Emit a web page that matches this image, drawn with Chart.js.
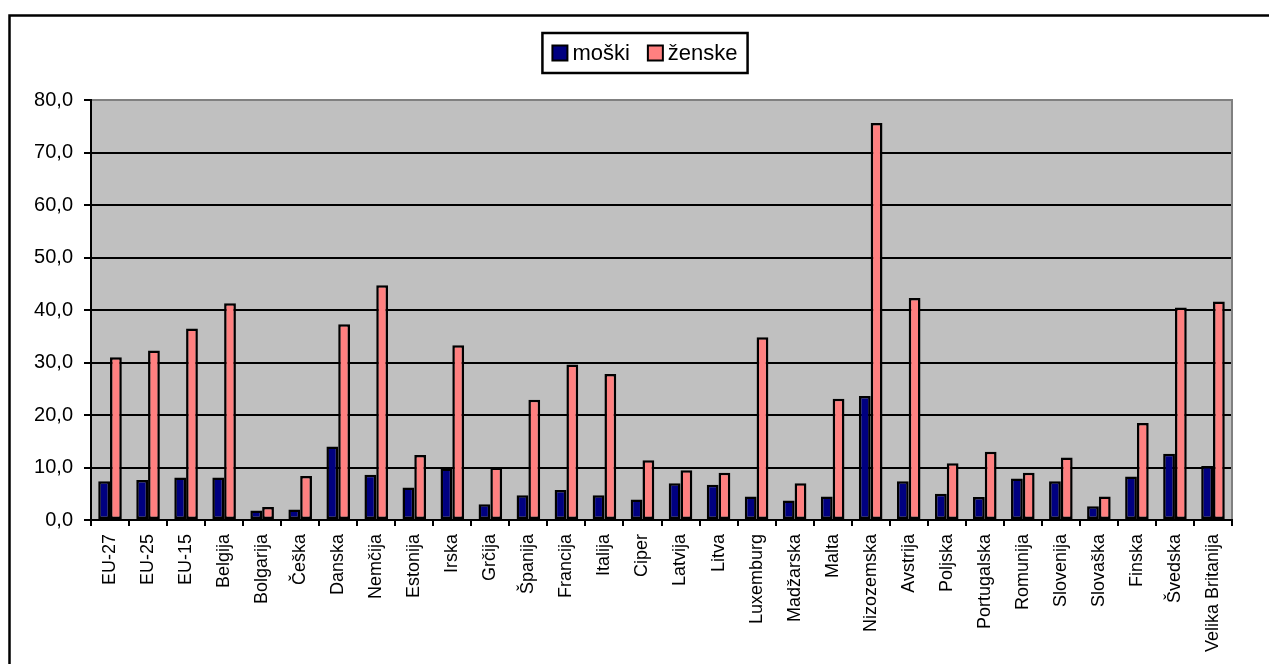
<!DOCTYPE html>
<html>
<head>
<meta charset="utf-8">
<script src="https://cdn.jsdelivr.net/npm/chart.js@4"></script>
<style>
body{margin:0;background:#fff;}
canvas{display:block;}
</style>
</head>
<body>
<canvas id="chart" width="1269" height="664"></canvas>
<script>
const countries=["EU-27","EU-25","EU-15","Belgija","Bolgarija","Češka","Danska","Nemčija","Estonija","Irska","Grčija","Španija","Francija","Italija","Ciper","Latvija","Litva","Luxemburg","Madžarska","Malta","Nizozemska","Avstrija","Poljska","Portugalska","Romunija","Slovenija","Slovaška","Finska","Švedska","Velika Britanija"]

const men=[7.4,7.6,8.1,8.1,1.8,2.0,14.0,8.6,6.2,9.8,3.0,4.7,5.7,4.7,3.9,7.0,6.7,4.5,3.7,4.5,23.6,7.4,5.0,4.4,7.9,7.4,2.6,8.3,12.6,10.3]
const women=[31.0,32.3,36.5,41.3,2.5,8.4,37.3,44.7,12.4,33.3,10.0,22.9,29.6,27.8,11.4,9.5,9.0,34.8,7.0,23.1,75.6,42.3,10.8,13.0,9.0,11.9,4.5,18.5,40.5,41.6]

const seriesNames=["moški","ženske"]
const yTicks=[0,10,20,30,40,50,60,70,80]

const FONT='"Liberation Sans", Arial, sans-serif'

// plot background, grey border, outer frame and boxed legend
const framePlugin={
id:"frame",
beforeDraw(chart){
const {ctx,chartArea:a}=chart
ctx.save()
ctx.fillStyle="#ffffff"
ctx.fillRect(0,0,chart.width,chart.height)
ctx.fillStyle="#c0c0c0"
ctx.fillRect(a.left,a.top,a.right-a.left,a.bottom-a.top)
ctx.restore()
},
beforeDatasetsDraw(chart){
const {ctx,chartArea:a}=chart
ctx.save()
ctx.strokeStyle="#808080"
ctx.lineWidth=2
ctx.beginPath()
ctx.moveTo(a.left+1,a.top)
ctx.lineTo(a.right,a.top)
ctx.lineTo(a.right,a.bottom-1)
ctx.stroke()
ctx.restore()
},
afterDraw(chart){
const ctx=chart.ctx
ctx.save()
// outer frame (cut off at right and bottom)
ctx.strokeStyle="#000"
ctx.lineWidth=2.5
ctx.strokeRect(9.5,15.5,1400,800)

// legend
ctx.font="22px "+FONT
const sets=chart.data.datasets
const sq=15, gap=5, itemGap=18, pad=10
const widths=sets.map(d=>ctx.measureText(d.label).width)
let total=pad*2+itemGap*(sets.length-1)
widths.forEach(w=>{total+=sq+gap+w})
const cx=645, top=33, h=40
let x=cx-total/2
ctx.fillStyle="#fff"
ctx.fillRect(x,top,total,h)
ctx.lineWidth=2.5
ctx.strokeRect(x,top,total,h)
x+=pad
ctx.textBaseline="middle"
sets.forEach((d,i)=>{
ctx.fillStyle=d.backgroundColor
ctx.fillRect(x,top+h/2-sq/2,sq,sq)
ctx.lineWidth=2
ctx.strokeStyle="#000"
ctx.strokeRect(x,top+h/2-sq/2,sq,sq)
x+=sq+gap
ctx.fillStyle="#000"
ctx.fillText(d.label,x,top+h/2+1)
x+=widths[i]+itemGap
})
ctx.restore()
}
}

const ctx=document.getElementById("chart").getContext("2d")

const chart=new Chart(ctx,{
type:"bar",
data:{
labels:countries,
datasets:[{
label:seriesNames[0],
data:men,
backgroundColor:"#000080",
borderColor:"#000",
borderWidth:2.5,
borderSkipped:false
},{
label:seriesNames[1],
data:women,
backgroundColor:"#ff8080",
borderColor:"#000",
borderWidth:2.5,
borderSkipped:false
}]
},
options:{
responsive:false,
animation:false,
devicePixelRatio:1,
layout:{padding:{left:31,top:100,right:37,bottom:0}},
datasets:{bar:{categoryPercentage:0.62,barPercentage:1.0}},
plugins:{
legend:{display:false},
tooltip:{enabled:false}
},
scales:{
x:{
afterFit(s){s.height=144},
grid:{drawOnChartArea:false,drawTicks:true,tickLength:6,color:"#000",lineWidth:2},
border:{color:"#000",width:2},
ticks:{
color:"#000",
font:{family:FONT,size:18},
minRotation:90,
maxRotation:90,
autoSkip:false,
padding:8
}
},
y:{
min:0,
max:80,
afterFit(s){s.width=60},
afterBuildTicks(s){s.ticks=yTicks.map(v=>({value:v}))},
grid:{color:"#000",lineWidth:2,tickLength:7},
border:{color:"#000",width:2},
ticks:{
color:"#000",
font:{family:FONT,size:20},
padding:11,
callback:v=>v.toFixed(1).replace(".",",")
}
}
}
},
plugins:[framePlugin]
})
</script>
</body>
</html>
